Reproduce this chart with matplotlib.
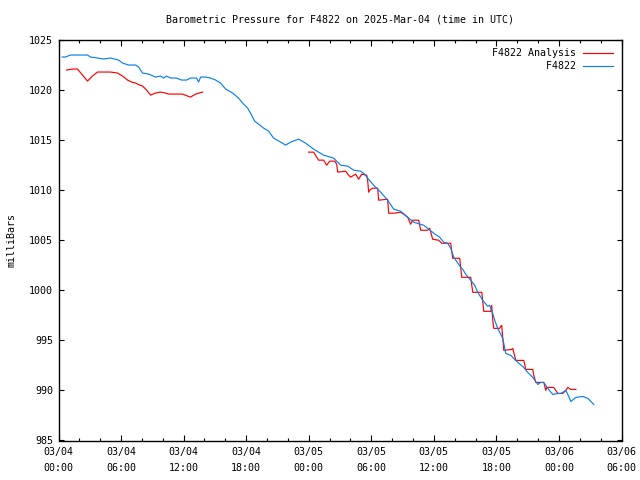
import numpy as np
import pandas as pd
import matplotlib
matplotlib.use("Agg")
import matplotlib.pyplot as plt
import matplotlib.dates as mdates

# ---------------- data (hours after 2025-03-04 00:00 UTC, mbar) -------------
station_hours = [0.36, 0.67, 1.15, 2.11, 2.78, 3.07, 3.74, 4.32, 4.99, 5.76,
                 6.14, 6.72, 7.39, 7.68, 8.06, 8.64, 9.31, 9.79, 10.08, 10.36,
                 10.75, 11.32, 11.80, 12.28, 12.67, 13.24, 13.44, 13.63, 14.11, 14.59,
                 15.07, 15.55, 16.03, 16.70, 17.27, 17.66, 18.14, 18.52, 18.81, 19.19,
                 19.67, 20.15, 20.63, 21.31, 21.79, 22.26, 23.03, 23.70, 24.47, 24.95,
                 25.43, 26.39, 27.06, 27.74, 28.31, 28.98, 29.37, 29.65, 30.23, 30.90,
                 31.57, 32.15, 32.82, 33.49, 34.07, 35.03, 35.99, 36.56, 36.95, 37.33,
                 37.62, 37.91, 38.58, 38.77, 39.06, 39.54, 39.92, 40.21, 40.69, 41.17,
                 41.36, 41.65, 41.84, 42.13, 42.61, 42.90, 43.38, 44.05, 44.53, 45.01,
                 45.49, 45.97, 46.26, 46.55, 46.93, 47.41, 47.89, 48.18, 48.66, 48.94,
                 49.14, 49.62, 50.29, 50.77, 51.06, 51.34]
station_mbar = [1023.3, 1023.3, 1023.5, 1023.5, 1023.5, 1023.3, 1023.2, 1023.1, 1023.2, 1023.0,
                1022.7, 1022.5, 1022.5, 1022.3, 1021.7, 1021.6, 1021.3, 1021.4, 1021.2, 1021.4,
                1021.2, 1021.2, 1021.0, 1021.0, 1021.2, 1021.2, 1020.8, 1021.3, 1021.3, 1021.2,
                1021.0, 1020.7, 1020.1, 1019.7, 1019.2, 1018.7, 1018.2, 1017.5, 1016.9, 1016.6,
                1016.2, 1015.9, 1015.2, 1014.8, 1014.5, 1014.8, 1015.1, 1014.7, 1014.1, 1013.8,
                1013.5, 1013.2, 1012.5, 1012.4, 1012.0, 1011.9, 1011.6, 1011.2, 1010.5, 1009.8,
                1009.0, 1008.1, 1007.9, 1007.3, 1006.8, 1006.5, 1005.7, 1005.3, 1004.8, 1004.7,
                1004.2, 1003.3, 1002.3, 1002.1, 1001.6, 1001.0, 1000.5, 999.8, 999.0, 998.4,
                998.5, 997.7, 997.0, 996.2, 995.2, 993.7, 993.5, 992.8, 992.4, 991.8,
                991.3, 990.6, 990.8, 990.8, 990.2, 989.6, 989.7, 989.7, 990.0, 989.4,
                988.9, 989.3, 989.4, 989.2, 988.9, 988.6]

analysis_hours = [0.77, 1.34, 1.82, 2.30, 2.78, 3.26, 3.74, 4.99, 5.66, 6.14,
                  6.62, 7.01, 7.39, 7.77, 8.06, 8.45, 8.83, 9.31, 9.79, 10.27,
                  10.56, 11.90, 12.38, 12.67, 13.15, 13.82, 18.0,
                  23.99, 24.47, 24.76, 24.95, 25.43, 25.72, 26.01, 26.49, 26.68, 26.78,
                  27.54, 27.83, 28.02, 28.50, 28.79, 29.08, 29.56, 29.65, 29.75, 29.85,
                  30.13, 30.61, 30.71, 31.57, 31.67, 32.15, 32.82, 33.11, 33.49, 33.78,
                  33.97, 34.55, 34.74, 35.41, 35.60, 35.89, 36.47, 36.76, 37.62, 37.81,
                  38.48, 38.68, 39.54, 39.73, 40.60, 40.79, 41.46, 41.55, 41.65, 41.75,
                  42.32, 42.42, 42.51, 42.71, 43.47, 43.57, 43.86, 44.63, 44.82, 45.49,
                  45.59, 45.78, 46.55, 46.74, 46.83, 47.50, 47.70, 47.89, 48.37, 48.66,
                  48.85, 49.14, 49.62]
analysis_mbar = [1022.0, 1022.1, 1022.1, 1021.5, 1020.9, 1021.4, 1021.8, 1021.8, 1021.7, 1021.4,
                 1021.0, 1020.8, 1020.7, 1020.5, 1020.4, 1020.0, 1019.5, 1019.7, 1019.8, 1019.7,
                 1019.6, 1019.6, 1019.4, 1019.3, 1019.6, 1019.8, np.nan,
                 1013.8, 1013.8, 1013.3, 1013.0, 1013.0, 1012.5, 1012.9, 1012.9, 1012.6, 1011.8,
                 1011.9, 1011.5, 1011.3, 1011.6, 1011.1, 1011.6, 1011.5, 1011.0, 1009.8, 1010.0,
                 1010.2, 1010.2, 1009.0, 1009.1, 1007.7, 1007.7, 1007.8, 1007.6, 1007.3, 1006.6,
                 1007.0, 1007.0, 1006.0, 1006.0, 1006.2, 1005.1, 1005.0, 1004.7, 1004.7, 1003.2,
                 1003.2, 1001.3, 1001.3, 999.8, 999.8, 997.9, 997.9, 998.5, 997.0, 996.2,
                 996.2, 996.4, 996.5, 994.0, 994.1, 994.2, 993.0, 993.0, 992.1, 992.1,
                 991.5, 990.8, 990.8, 990.0, 990.3, 990.3, 990.0, 989.7, 989.7, 990.0,
                 990.3, 990.1, 990.1]

start_time = "2025-03-04 00:00"
end_hours = 54
y_ticks = [985, 990, 995, 1000, 1005, 1010, 1015, 1020, 1025]
title = "Barometric Pressure for F4822 on 2025-Mar-04 (time in UTC)"
analysis_label = "F4822 Analysis"
station_label = "F4822"

# ---------------- plotting ----------------
FONT = "DejaVu Sans Mono"
FS = 7.2
plt.rcParams["font.family"] = FONT
plt.rcParams["font.size"] = FS

t0 = pd.Timestamp(start_time)
st_t = t0 + pd.to_timedelta(station_hours, unit="h")
an_t = t0 + pd.to_timedelta(analysis_hours, unit="h")

fig = plt.figure(figsize=(6.4, 4.8), dpi=100)
ax = fig.add_axes([58.5 / 640, 1 - 440.5 / 480, (621.5 - 58.5) / 640, 400.5 / 480])

l1, = ax.plot(an_t, analysis_mbar, color="#ff0000", lw=0.85)
l2, = ax.plot(st_t, station_mbar, color="#0a80f0", lw=0.85)

ax.set_xlim(t0, t0 + pd.Timedelta(hours=end_hours))
ax.set_ylim(985, 1025)
ax.set_yticks(y_ticks)

ax.xaxis.set_major_locator(mdates.HourLocator(byhour=[0, 6, 12, 18]))
ax.xaxis.set_minor_locator(mdates.HourLocator(byhour=range(0, 24, 2)))
ax.xaxis.set_major_formatter(mdates.DateFormatter("%m/%d\n%H:%M"))

ax.tick_params(axis="both", which="both", direction="in", top=True, right=True,
               width=0.8, labelsize=FS)
ax.tick_params(axis="x", which="major", length=4.5, pad=5)
ax.tick_params(axis="x", which="minor", length=2.5)
ax.tick_params(axis="y", which="major", length=3.5, pad=4)
for lab in ax.get_xticklabels():
    lab.set_linespacing(1.65)
for s in ax.spines.values():
    s.set_linewidth(1.0)

ax.set_ylabel("milliBars", fontsize=FS, labelpad=9)
ax.set_title(title, fontsize=FS, pad=12.5)

leg = ax.legend([l1, l2], [analysis_label, station_label.rjust(len(analysis_label))],
                loc="upper right", frameon=False, markerfirst=False,
                handlelength=3.0, handletextpad=0.75, labelspacing=0.25,
                borderaxespad=0.45, fontsize=FS)

fig.savefig("out.png", dpi=100)
